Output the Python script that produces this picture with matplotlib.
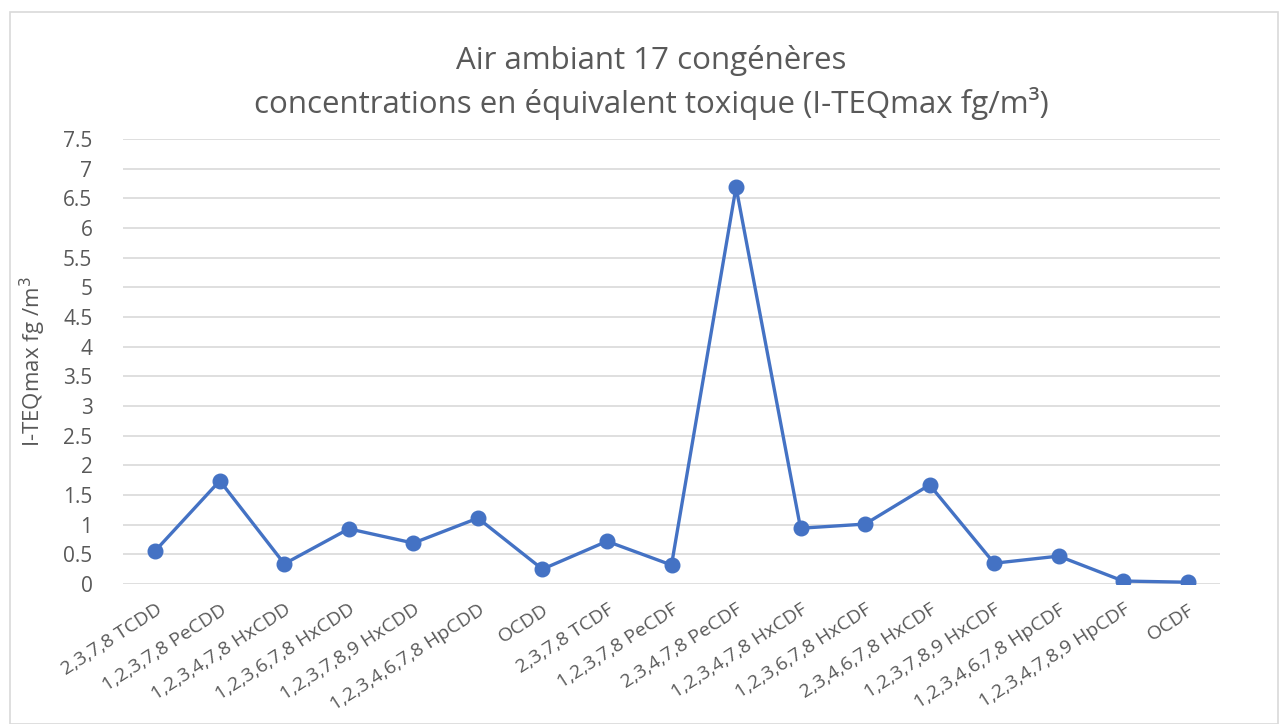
import matplotlib.pyplot as plt
from matplotlib.patches import Rectangle

# === Data ===
congeners = [
    "2,3,7,8 TCDD", "1,2,3,7,8 PeCDD", "1,2,3,4,7,8 HxCDD", "1,2,3,6,7,8 HxCDD",
    "1,2,3,7,8,9 HxCDD", "1,2,3,4,6,7,8 HpCDD", "OCDD", "2,3,7,8 TCDF",
    "1,2,3,7,8 PeCDF", "2,3,4,7,8 PeCDF", "1,2,3,4,7,8 HxCDF", "1,2,3,6,7,8 HxCDF",
    "2,3,4,6,7,8 HxCDF", "1,2,3,7,8,9 HxCDF", "1,2,3,4,6,7,8 HpCDF",
    "1,2,3,4,7,8,9 HpCDF", "OCDF",
]
teq_max = [0.56, 1.74, 0.34, 0.93, 0.69, 1.11, 0.25, 0.72, 0.32, 6.69,
           0.94, 1.01, 1.67, 0.35, 0.47, 0.05, 0.03]
y_ticks = [0, 0.5, 1, 1.5, 2, 2.5, 3, 3.5, 4, 4.5, 5, 5.5, 6, 6.5, 7, 7.5]

plt.rcParams['font.family'] = ['Open Sans', 'DejaVu Sans']
text_col = "#595959"
line_col = "#4472C4"

fig = plt.figure(figsize=(12.81, 7.24), dpi=100)
ax = fig.add_axes([123/1281, 1 - 584/724, (1220-123)/1281, (584-139)/724])

# chart frame
fig.patches.append(Rectangle((10/1281, 0), 1268/1281, 1 - 12/724, transform=fig.transFigure,
                             fill=False, edgecolor="#d9d9d9", linewidth=1.2))

x = list(range(len(congeners)))
ax.plot(x, teq_max, color=line_col, linewidth=2.4, marker="o", markersize=10.5, zorder=3)

ax.set_xlim(-0.5, len(congeners) - 0.5)
ax.set_ylim(0, 7.5)
ax.set_yticks(y_ticks)
ax.set_yticklabels([f"{v:g}" for v in y_ticks])
ax.grid(True, axis="y", color="#d9d9d9", linewidth=1.2)
ax.set_axisbelow(True)
for s in ax.spines.values():
    s.set_visible(False)
ax.tick_params(axis="both", length=0, colors=text_col, labelsize=15)
ax.tick_params(axis="y", pad=22)

ax.set_xticks(x)
ax.set_xticklabels(congeners, rotation=33, ha="right", rotation_mode="anchor")
ax.tick_params(axis="x", pad=12, labelsize=14)

ax.set_ylabel("I-TEQmax fg /m$^3$", color=text_col, fontsize=16)
ax.yaxis.set_label_coords(-75/1097, 0.5)

fig.text(651/1281, 1 - 60/724, "Air ambiant 17 congénères", ha="center", va="center",
         fontsize=22.5, color=text_col)
fig.text(651/1281, 1 - 103/724, "concentrations en équivalent toxique (I-TEQmax fg/m³)",
         ha="center", va="center", fontsize=22.5, color=text_col)

fig.savefig("out.png", dpi=100)
